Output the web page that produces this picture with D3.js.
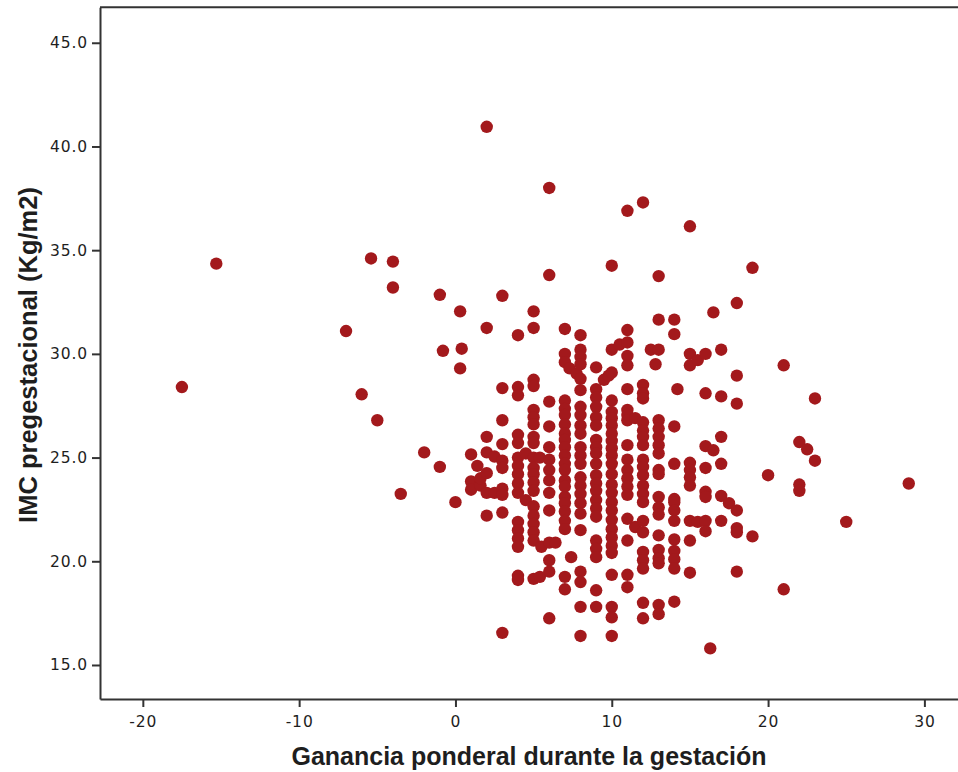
<!DOCTYPE html>
<html>
<head>
<meta charset="utf-8">
<script src="https://cdn.jsdelivr.net/npm/d3@7"></script>
<style>
  html, body { margin: 0; padding: 0; background: #ffffff; }
  svg { display: block; }
</style>
</head>
<body>
<svg id="chart" width="958" height="772"></svg>
<script>
// Weight gain during pregnancy (kg): one entry per recorded value
const gainLevels = [
  -17.5, -15.3, -7, -6, -5.4, -5, -4, -3.5, -2, -1, -0.8, 0, 0.3, 0.4,
  1, 1.4, 1.6, 2, 2.5, 3, 4, 4.5, 5, 5.4, 5.5, 6, 6.4, 7, 7.3, 7.4, 7.75,
  8, 9, 9.5, 9.8, 10, 10.5, 11, 11.5, 12, 12.5, 12.8, 13, 14, 14.2, 15,
  15.5, 16, 16.3, 16.5, 17, 17.5, 18, 19, 20, 21, 22, 22.5, 23, 25, 29
];

// Pre-pregnancy BMI (kg/m2) of the women recorded at each weight gain above
const bmiAtGain = [
  [28.4],
  [34.35],
  [31.1],
  [28.05],
  [34.6],
  [26.8],
  [34.45, 33.2],
  [23.25],
  [25.25],
  [32.85, 24.55],
  [30.15],
  [22.85],
  [32.05, 29.3],
  [30.25],
  [25.15, 23.85, 23.45],
  [24.6],
  [23.65, 24.0],
  [40.95, 31.25, 26.0, 25.25, 24.25, 23.3, 22.2],
  [25.05, 23.3],
  [32.8, 28.35, 26.8, 25.65, 24.85, 24.5, 23.5, 23.2, 22.35, 16.55],
  [30.9, 28.4, 28.0, 26.1, 25.7, 25.0, 24.6, 24.2, 23.75, 23.3, 21.9, 21.5, 21.1, 20.7, 19.3, 19.1],
  [25.2, 22.95],
  [32.05, 31.25, 28.75, 28.45, 27.3, 26.95, 26.6, 26.0, 25.7, 25.0, 24.5, 24.2, 23.8, 23.4, 22.65, 22.2, 21.8, 21.4, 21.0, 19.15],
  [25.0, 19.25],
  [20.7],
  [38.0, 33.8, 27.7, 26.5, 25.5, 24.9, 24.4, 23.9, 23.3, 22.45, 20.9, 20.05, 19.5, 17.25],
  [20.9],
  [31.2, 30.0, 29.6, 27.75, 27.35, 27.05, 26.6, 26.15, 25.85, 25.5, 25.1, 24.7, 24.4, 23.9, 23.6, 23.1, 22.8, 22.4, 21.95, 21.55, 19.25, 18.65],
  [29.3],
  [20.2],
  [29.05],
  [30.9, 30.2, 29.85, 29.5, 28.8, 28.25, 27.45, 27.05, 26.55, 26.15, 25.5, 25.1, 24.7, 24.05, 23.65, 23.25, 22.8, 22.3, 21.5, 19.5, 19.0, 17.8, 16.4],
  [29.35, 28.3, 27.9, 27.45, 26.95, 26.55, 25.85, 25.5, 25.2, 24.7, 24.15, 23.75, 23.4, 22.95, 22.55, 22.15, 21.0, 20.6, 20.2, 18.6, 17.8],
  [28.75],
  [28.95],
  [34.25, 30.2, 29.1, 27.75, 27.2, 26.9, 26.55, 26.15, 25.8, 25.45, 25.1, 24.7, 24.2, 23.7, 23.3, 22.85, 22.45, 22.0, 21.55, 21.15, 20.75, 20.4, 19.35, 17.8, 17.3, 16.4],
  [30.45],
  [36.9, 31.15, 30.55, 29.9, 29.45, 28.3, 27.3, 27.05, 26.8, 25.6, 24.9, 24.4, 24.0, 23.6, 23.2, 22.05, 21.0, 19.35, 18.75],
  [26.9, 21.65],
  [37.3, 28.5, 28.1, 27.85, 26.7, 26.3, 26.0, 25.6, 24.9, 24.55, 24.15, 23.65, 23.25, 22.85, 21.95, 21.4, 20.45, 20.05, 19.65, 18.0, 17.25],
  [30.2],
  [29.5],
  [33.75, 31.65, 30.2, 26.8, 26.4, 26.0, 25.6, 25.2, 24.4, 24.2, 23.1, 22.6, 22.25, 21.25, 20.55, 20.15, 19.9, 17.9, 17.45],
  [31.65, 30.95, 26.5, 24.7, 23.0, 22.85, 22.45, 21.95, 21.05, 20.5, 20.1, 19.65, 18.05],
  [28.3],
  [36.15, 30.0, 29.45, 24.75, 24.4, 24.05, 23.65, 21.95, 21.0, 19.45],
  [29.7, 21.9],
  [30.0, 28.1, 25.55, 24.5, 23.35, 23.1, 21.95, 21.45],
  [15.8],
  [32.0, 25.35],
  [30.2, 27.95, 26.0, 24.7, 23.15, 21.95],
  [22.8],
  [32.45, 28.95, 27.6, 22.45, 21.6, 21.4, 19.5],
  [34.15, 21.2],
  [24.15],
  [29.45, 18.65],
  [25.75, 23.7, 23.4],
  [25.4],
  [27.85, 24.85],
  [21.9],
  [23.75]
];

const xTicks = [-20, -10, 0, 10, 20, 30];
const yTicks = [15, 20, 25, 30, 35, 40, 45];
const xTitle = "Ganancia ponderal durante la gestación";
const yTitle = "IMC pregestacional (Kg/m2)";

// one record per woman
const points = [];
gainLevels.forEach((g, i) => {
  bmiAtGain[i].forEach(b => points.push({ gain: g, bmi: b }));
});

const svg = d3.select("#chart");
const frame = { left: 100, right: 958, top: 7.3, bottom: 699 };

const x = d3.scaleLinear().domain([-22.74, 32.15]).range([frame.left, frame.right]);
const y = d3.scaleLinear().domain([13.36, 46.71]).range([frame.bottom, frame.top]);

const axisColor = "#333333";
const textColor = "#1e1e1e";

// scatter points
svg.append("g")
  .selectAll("circle")
  .data(points)
  .join("circle")
  .attr("cx", d => x(d.gain))
  .attr("cy", d => y(d.bmi))
  .attr("r", 6.2)
  .attr("fill", "#a3191c");

// top border of the plotting frame
svg.append("line")
  .attr("x1", frame.left).attr("x2", frame.right)
  .attr("y1", frame.top).attr("y2", frame.top)
  .attr("stroke", axisColor).attr("stroke-width", 2);

// y axis
const gy = svg.append("g")
  .attr("transform", `translate(${frame.left},0)`)
  .call(d3.axisLeft(y)
    .tickValues(yTicks)
    .tickSize(8)
    .tickPadding(4)
    .tickSizeOuter(0)
    .tickFormat(d3.format(".1f")));

// x axis
const gx = svg.append("g")
  .attr("transform", `translate(0,${frame.bottom})`)
  .call(d3.axisBottom(x)
    .tickValues(xTicks)
    .tickSize(8)
    .tickPadding(9)
    .tickSizeOuter(0)
    .tickFormat(d => String(d)));

[gx, gy].forEach(g => {
  g.select(".domain").attr("stroke", axisColor).attr("stroke-width", 2);
  g.selectAll(".tick line").attr("stroke", axisColor).attr("stroke-width", 2);
  g.selectAll(".tick text")
    .attr("fill", textColor)
    .style("font-family", "'DejaVu Sans', sans-serif")
    .style("font-size", "15.5px")
    .style("letter-spacing", "0.9px");
});

// axis titles
svg.append("text")
  .attr("x", (frame.left + frame.right) / 2)
  .attr("y", 765)
  .attr("text-anchor", "middle")
  .attr("fill", textColor)
  .style("font-family", "'Liberation Sans', Arial, sans-serif")
  .style("font-weight", "bold")
  .style("font-size", "25px")
  .text(xTitle);

svg.append("text")
  .attr("transform", "translate(37,355) rotate(-90)")
  .attr("text-anchor", "middle")
  .attr("fill", textColor)
  .style("font-family", "'Liberation Sans', Arial, sans-serif")
  .style("font-weight", "bold")
  .style("font-size", "25.5px")
  .text(yTitle);
</script>
</body>
</html>
